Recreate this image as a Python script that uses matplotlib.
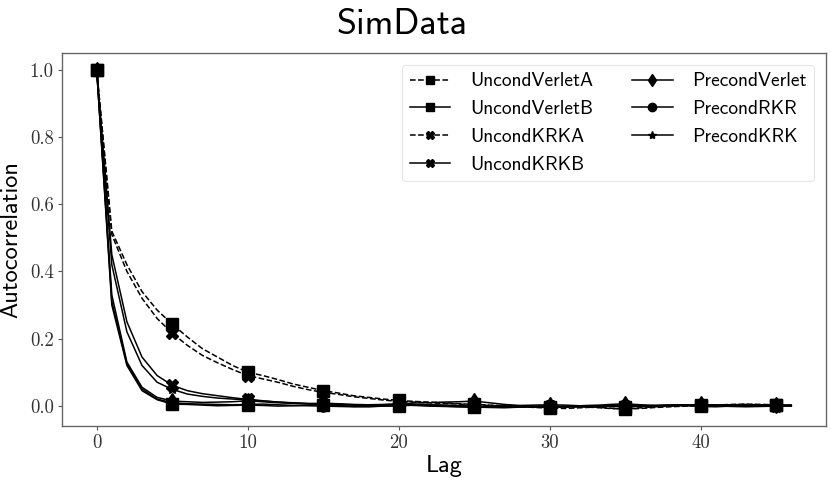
import matplotlib
matplotlib.use("Agg")
import matplotlib.pyplot as plt
import numpy as np

plt.rcParams['axes.unicode_minus'] = False

lags = list(range(47))

uncond_verlet_a = [1.0, 0.52, 0.42, 0.34, 0.285, 0.243, 0.205, 0.17, 0.145, 0.12,
                   0.10, 0.09, 0.078, 0.065, 0.055, 0.045, 0.038, 0.03, 0.025, 0.02,
                   0.016, 0.013, 0.011, 0.009, 0.006, 0.004, 0.002, 0.0, -0.003, -0.005,
                   -0.007, -0.008, -0.006, -0.004, -0.007, -0.01, -0.008, -0.005, -0.003, -0.001,
                   0.001, 0.002, 0.004, 0.005, 0.004, 0.003, 0.002]
uncond_verlet_b = [1.0, 0.30, 0.12, 0.045, 0.018, 0.005, 0.004, 0.002, 0.0, 0.001,
                   0.002, 0.001, -0.001, 0.0, 0.002, 0.003, 0.001, -0.002, -0.003, -0.001,
                   0.0, 0.002, 0.001, -0.001, -0.003, -0.004, -0.002, 0.0, -0.001, -0.003,
                   -0.004, -0.002, 0.0, 0.001, -0.002, -0.003, -0.001, 0.001, 0.002, 0.0,
                   -0.002, -0.003, -0.001, 0.001, 0.002, 0.001, 0.0]
uncond_krk_a = [1.0, 0.51, 0.40, 0.32, 0.26, 0.216, 0.18, 0.15, 0.128, 0.108,
                0.09, 0.08, 0.07, 0.058, 0.048, 0.04, 0.034, 0.027, 0.022, 0.017,
                0.013, 0.011, 0.009, 0.007, 0.005, 0.003, 0.001, -0.001, -0.002, -0.004,
                -0.005, -0.004, -0.003, -0.005, -0.008, -0.01, -0.006, -0.003, -0.001, 0.001,
                0.002, 0.003, 0.003, 0.004, 0.003, 0.002, 0.001]
uncond_krk_b = [1.0, 0.45, 0.25, 0.145, 0.09, 0.061, 0.045, 0.036, 0.03, 0.024,
                0.019, 0.015, 0.011, 0.008, 0.006, 0.005, 0.004, 0.002, 0.001, 0.0,
                0.001, 0.002, 0.003, 0.002, 0.0, -0.002, -0.003, -0.004, -0.002, -0.001,
                -0.002, -0.003, -0.002, 0.0, 0.001, -0.001, -0.002, 0.0, 0.002, 0.003,
                0.002, 0.0, -0.001, 0.0, 0.001, 0.0, -0.001]
precond_verlet = [1.0, 0.33, 0.13, 0.055, 0.025, 0.014, 0.012, 0.01, 0.011, 0.012,
                  0.015, 0.012, 0.009, 0.007, 0.006, 0.008, 0.006, 0.004, 0.003, 0.004,
                  0.006, 0.008, 0.009, 0.011, 0.012, 0.014, 0.009, 0.004, 0.001, 0.002,
                  0.003, 0.002, 0.0, 0.001, 0.004, 0.006, 0.003, 0.001, 0.0, 0.002,
                  0.004, 0.002, 0.0, -0.001, 0.0, 0.001, 0.001]
precond_rkr = [1.0, 0.31, 0.125, 0.05, 0.02, 0.009, 0.006, 0.005, 0.004, 0.003,
               0.004, 0.005, 0.003, 0.001, 0.0, -0.001, -0.002, -0.003, -0.002, -0.001,
               0.002, 0.001, -0.001, -0.002, -0.003, -0.004, -0.005, -0.006, -0.004, -0.003,
               -0.004, -0.003, -0.001, 0.0, -0.001, -0.002, -0.002, 0.0, 0.001, 0.002,
               0.001, 0.0, -0.002, -0.003, -0.002, -0.001, 0.0]
precond_krk = [1.0, 0.42, 0.22, 0.12, 0.07, 0.049, 0.035, 0.028, 0.023, 0.02,
               0.018, 0.014, 0.011, 0.009, 0.007, 0.005, 0.004, 0.003, 0.002, 0.003,
               0.004, 0.003, 0.002, 0.001, 0.0, -0.001, -0.003, -0.004, -0.003, -0.002,
               -0.001, -0.002, -0.003, -0.002, 0.0, 0.002, 0.001, 0.0, 0.001, 0.002,
               0.003, 0.002, 0.0, -0.001, 0.0, 0.001, 0.002]

labels = ["UncondVerletA", "UncondVerletB", "UncondKRKA", "UncondKRKB",
          "PrecondVerlet", "PrecondRKR", "PrecondKRK"]
series = [uncond_verlet_a, uncond_verlet_b, uncond_krk_a, uncond_krk_b,
          precond_verlet, precond_rkr, precond_krk]
styles = ["--", "-", "--", "-", "-", "-", "-"]
markers = ["s", "s", "X", "X", "d", "o", "*"]
msizes = [8.5, 8.5, 8.5, 8.5, 8.5, 8, 8]

fig = plt.figure(figsize=(8.31, 4.82), dpi=100)
ax = fig.add_axes([0.0746, 0.116, 0.9194, 0.774])

for y, lab, ls, mk, ms in zip(series, labels, styles, markers, msizes):
    ax.plot(lags, y, linestyle=ls, marker=mk, markevery=5, markersize=ms,
            color="black", linewidth=1.1, label=lab)

ax.set_xticks([0, 10, 20, 30, 40])
ax.set_yticks([0.0, 0.2, 0.4, 0.6, 0.8, 1.0])
ax.set_xticklabels(["0", "10", "20", "30", "40"])
ax.set_yticklabels(["0.0", "0.2", "0.4", "0.6", "0.8", "1.0"])
for t in ax.get_xticklabels() + ax.get_yticklabels():
    t.set_fontfamily("cmr10")
    t.set_fontsize(13.5)
    t.set_color("#333333")
ax.tick_params(length=3, width=0.8, color="#555555", pad=3)
for s in ax.spines.values():
    s.set_color("#666666")
    s.set_linewidth(1.0)

ax.set_xlabel("Lag", fontfamily="cmss10", fontsize=17.5, labelpad=2)
ax.set_ylabel("Autocorrelation", fontfamily="cmss10", fontsize=17.5, labelpad=5)
fig.text(402 / 831, 1 - 34 / 482, "SimData", fontfamily="cmss10", fontsize=26,
         ha="center", va="baseline")

leg = ax.legend(ncol=2, loc="upper right", prop={"family": "cmss10", "size": 14},
                frameon=True, fancybox=True, edgecolor="#e0e0e0",
                handlelength=2.1, handletextpad=1.0, columnspacing=2.0,
                labelspacing=0.5, borderaxespad=0.6, markerscale=0.75)
leg.get_frame().set_linewidth(0.8)

fig.savefig("out.png", dpi=100)
